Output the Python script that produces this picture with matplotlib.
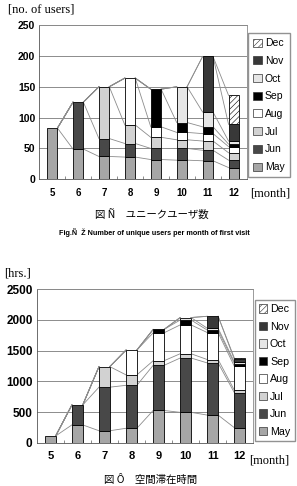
#!/usr/bin/env python3
"""Stacked monthly cohort charts: unique users and hours spent."""

import matplotlib
matplotlib.use("Agg")
import matplotlib.pyplot as plt
import numpy as np
from matplotlib.patches import Patch


months = [5, 6, 7, 8, 9, 10, 11, 12]
cohorts = ["May", "Jun", "Jul", "Aug", "Sep", "Oct", "Nov", "Dec"]

# unique users, split by the month of first visit
users_may = [83, 49, 37, 36, 32, 31, 30, 19]
users_jun = [0, 76, 29, 22, 18, 19, 17, 12]
users_jul = [0, 0, 84, 30, 18, 14, 15, 12]
users_aug = [0, 0, 0, 76, 17, 12, 12, 10]
users_sep = [0, 0, 0, 0, 61, 16, 11, 4]
users_oct = [0, 0, 0, 0, 0, 58, 24, 5]
users_nov = [0, 0, 0, 0, 0, 0, 90, 27]
users_dec = [0, 0, 0, 0, 0, 0, 0, 47]

# hours spent in the space, same split
hours_may = [110, 290, 195, 235, 525, 495, 450, 245]
hours_jun = [0, 325, 710, 700, 735, 885, 850, 570]
hours_jul = [0, 0, 335, 170, 75, 70, 55, 40]
hours_aug = [0, 0, 0, 405, 455, 470, 440, 390]
hours_sep = [0, 0, 0, 0, 55, 80, 40, 45]
hours_oct = [0, 0, 0, 0, 0, 40, 30, 25]
hours_nov = [0, 0, 0, 0, 0, 0, 195, 45]
hours_dec = [0, 0, 0, 0, 0, 0, 0, 20]

colors = {
    "May": "#a6a6a6",
    "Jun": "#484848",
    "Jul": "#d2d2d2",
    "Aug": "#ffffff",
    "Sep": "#000000",
    "Oct": "#e6e6e6",
    "Nov": "#383838",
    "Dec": "#ffffff",
}
hatches = {"Dec": "//////"}

plt.rcParams["hatch.linewidth"] = 0.4
plt.rcParams["hatch.color"] = "#555555"

JP = ["Noto Sans CJK JP", "DejaVu Sans"]


def stacked_panel(ax, series, ymax, ystep, tick_size):
    x = np.arange(len(months))
    width = 0.4
    bottom = np.zeros(len(months))
    tops = []
    for name, vals in zip(cohorts, series):
        vals = np.asarray(vals, dtype=float)
        mask = vals > 0
        ax.bar(x[mask], vals[mask], width, bottom=bottom[mask], color=colors[name],
               edgecolor="black", linewidth=0.6, hatch=hatches.get(name), zorder=3)
        bottom = bottom + vals
        tops.append(bottom.copy())

    # series lines between neighbouring bars
    for top in tops:
        for i in range(len(x) - 1):
            ax.plot([x[i] + width / 2, x[i + 1] - width / 2], [top[i], top[i + 1]],
                    color="#8c8c8c", linewidth=0.6, zorder=2)

    ax.set_xlim(-0.5, len(months) - 0.5)
    ax.set_ylim(0, ymax)
    ax.set_yticks(np.arange(0, ymax + 1, ystep))
    ax.set_xticks(x)
    ax.set_xticklabels([str(m) for m in months])
    ax.set_xticks(np.arange(0.5, len(months) - 1, 1.0), minor=True)
    ax.tick_params(axis="x", which="major", length=0, pad=6, labelsize=tick_size - 0.5)
    ax.tick_params(axis="x", which="minor", direction="in", length=2, width=0.6, color="#777777")
    ax.tick_params(axis="y", length=0, pad=3, labelsize=tick_size)
    for lab in ax.get_xticklabels() + ax.get_yticklabels():
        lab.set_fontweight("bold")
        lab.set_family("Liberation Sans")
    ax.grid(axis="y", color="#7a7a7a", linewidth=0.6, zorder=1)
    for side, spine in ax.spines.items():
        spine.set_color("#8a8a8a" if side in ("top", "right") else "#555555")
        spine.set_linewidth(0.6)

    handles = [Patch(facecolor=colors[c], edgecolor="#333333", linewidth=0.5,
                     hatch=hatches.get(c), label=c) for c in reversed(cohorts)]
    return handles


def main() -> None:
    fig = plt.figure(figsize=(2.97, 4.86), dpi=100)

    ax1 = fig.add_axes([39.3 / 297, 1 - 179.3 / 486, 207.4 / 297, 154.3 / 486])
    h1 = stacked_panel(ax1, [users_may, users_jun, users_jul, users_aug,
                             users_sep, users_oct, users_nov, users_dec], 250, 50, 7.5)
    fig.legend(handles=h1, loc="upper left", bbox_to_anchor=(248 / 297, 1 - 33 / 486),
               handlelength=0.8, handleheight=0.8, handletextpad=0.3,
               labelspacing=0.74, borderpad=0.5, borderaxespad=0, frameon=True,
               fancybox=False, edgecolor="#777777", prop={"family": "Liberation Sans", "size": 7.5})
    fig.text(8 / 297, 1 - 10 / 486, "[no. of users]", family="Liberation Serif",
             fontsize=9, va="center", ha="left")
    fig.text(250 / 297, 1 - 193 / 486, "[month]", family="Liberation Serif",
             fontsize=9, va="center", ha="left")
    fig.text(152 / 297, 1 - 215 / 486, "図 Ñ　ユニークユーザ数", family=JP,
             fontsize=7.5, va="center", ha="center")
    fig.text(154 / 297, 1 - 233 / 486, "Fig.Ñ  Ž Number of unique users per month of first visit",
             family="Liberation Sans", fontweight="bold", fontsize=5.2, va="center", ha="center")

    ax2 = fig.add_axes([36.7 / 297, 1 - 442.7 / 486, 216.6 / 297, 153.4 / 486])
    h2 = stacked_panel(ax2, [hours_may, hours_jun, hours_jul, hours_aug,
                             hours_sep, hours_oct, hours_nov, hours_dec], 2500, 500, 8.5)
    fig.legend(handles=h2, loc="upper left", bbox_to_anchor=(255 / 297, 1 - 300 / 486),
               handlelength=0.75, handleheight=0.8, handletextpad=0.25,
               labelspacing=0.7, borderpad=0.4, borderaxespad=0, frameon=True,
               fancybox=False, edgecolor="#777777", prop={"family": "Liberation Sans", "size": 7.7})
    fig.text(4 / 297, 1 - 273 / 486, "[hrs.]", family="Liberation Serif",
             fontsize=9, va="center", ha="left")
    fig.text(249 / 297, 1 - 460 / 486, "[month]", family="Liberation Serif",
             fontsize=9, va="center", ha="left")
    fig.text(151 / 297, 1 - 479 / 486, "図 Ô　空間滞在時間", family=JP,
             fontsize=7.5, va="center", ha="center")

    fig.savefig("out.png", dpi=100)
    plt.close(fig)


if __name__ == "__main__":
    main()
